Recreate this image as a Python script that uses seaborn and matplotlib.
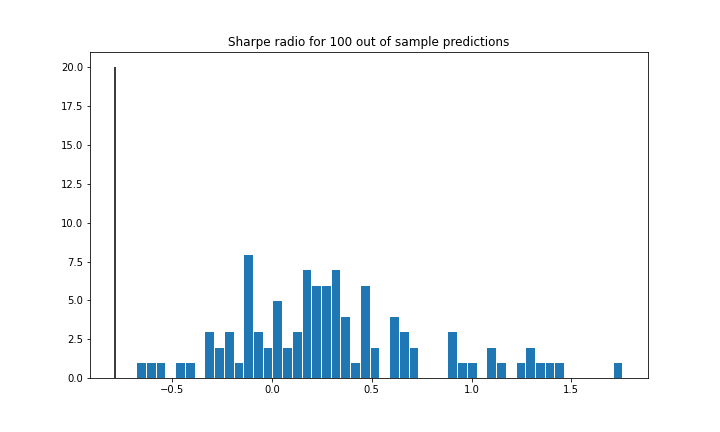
import numpy as np
import pandas as pd
import matplotlib
matplotlib.use("Agg")
import matplotlib.pyplot as plt
import seaborn as sns

# Histogram of Sharpe ratios: 50 equal bins
bin_low = -0.681
bin_high = 1.757
n_bins = 50
counts = [1, 1, 1, 0, 1, 1, 0, 3, 2, 3,
          1, 8, 3, 2, 5, 2, 3, 7, 6, 6,
          7, 4, 1, 6, 2, 0, 4, 3, 2, 0,
          0, 0, 3, 1, 1, 0, 2, 1, 0, 1,
          2, 1, 1, 1, 0, 0, 0, 0, 0, 1]
# reference vertical line
ref_x = -0.786
ref_height = 20

title = "Sharpe radio for 100 out of sample predictions"

bin_width = (bin_high - bin_low) / n_bins
centers = [bin_low + (i + 0.5) * bin_width for i in range(n_bins)]
df = pd.DataFrame({"sharpe": centers, "count": counts})

fig, ax = plt.subplots(figsize=(10, 6), dpi=72)
fig.subplots_adjust(left=0.125, right=0.9, top=0.88, bottom=0.125)

sns.histplot(data=df, x="sharpe", weights="count", bins=n_bins,
             binrange=(bin_low, bin_high), ax=ax,
             color="#1f77b4", alpha=1.0, edgecolor="white", linewidth=1.0)
ax.vlines(ref_x, 0, ref_height, color="black", linewidth=1.5)

ax.set_title(title, fontsize=12)
ax.set_xlabel("")
ax.set_ylabel("")
ax.set_ylim(0, 21)
ax.set_xlim(-0.913, 1.885)
ax.set_yticks(np.arange(0, 20.1, 2.5))
ax.set_xticks([-0.5, 0.0, 0.5, 1.0, 1.5])

fig.savefig("out.png", dpi=72)
